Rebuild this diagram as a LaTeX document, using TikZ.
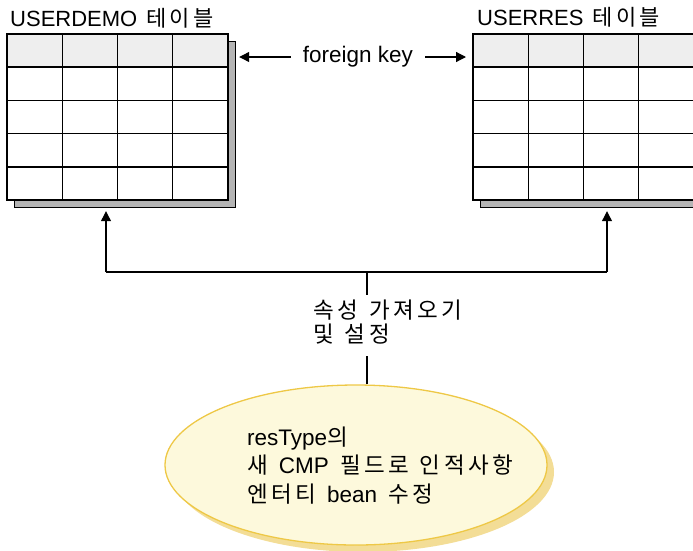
\documentclass[tikz,border=0pt]{standalone}
\usepackage{fontspec}
\setmainfont{Liberation Sans}
\newfontfamily\lat{Liberation Sans}
\newfontfamily\kr[WordSpace=2.2]{Noto Sans CJK KR}
\usetikzlibrary{arrows.meta,shapes.geometric,calc}

% tracking between consecutive Hangul syllables
\XeTeXinterchartokenstate=1
\chardef\hangulcls=41
\count255="AC00
\loop
  \XeTeXcharclass\count255=\hangulcls
  \ifnum\count255<"D7A3 \advance\count255 by 1
\repeat
\XeTeXinterchartoks\hangulcls\hangulcls={\kern0.15em\relax}

\definecolor{headfill}{RGB}{238,238,238}
\definecolor{shadowgrey}{RGB}{180,180,180}
\definecolor{ellfill}{RGB}{253,249,220}
\definecolor{ellborder}{RGB}{238,200,70}
\definecolor{ellshadow}{RGB}{243,221,150}

\tikzset{
  tblbox/.style={draw, line width=1.2pt, fill=white, minimum width=221pt, minimum height=166pt, inner sep=0pt},
  tblshadow/.style={draw, line width=1.2pt, fill=shadowgrey, minimum width=221pt, minimum height=166pt, inner sep=0pt},
  gridln/.style={line width=1.1pt},
  arr/.style={line width=1.2pt, -{Triangle[length=10pt,width=10pt]}},
  plain/.style={line width=1.2pt},
  titletxt/.style={font=\fontsize{22}{26}\selectfont, inner sep=0pt, anchor=base west},
  kotxt/.style={font=\kr\fontsize{22.5}{26}\selectfont, inner sep=0pt, anchor=base west},
}
\newcommand\tbltitle{{\kr\fontsize{22}{26}\selectfont 테이블}}

\begin{document}
\begin{tikzpicture}[x=1pt,y=-1pt]
\useasboundingbox (0,0) rectangle (693,550);
\clip (0,0) rectangle (693,550);

% table titles
\node[titletxt] (tdemo) at (10,26) {USERDEMO\hspace{9pt}\tbltitle};
\node[titletxt] (tres) at (477,25.5) {USERRES\hspace{9pt}\tbltitle};

% the two tables with their shadows, header rows and grids
\foreach \nm/\x in {demo/7, res/473} {
  \node[tblshadow, anchor=north west] at (\x+7,41) {};
  \node[tblbox, anchor=north west] (\nm) at (\x,34) {};
  \fill[headfill] (\x,34) rectangle (\x+221,67);
  \foreach \c in {55.25,110.5,165.75}
    \draw[gridln] (\x+\c,34) -- (\x+\c,200);
  \foreach \r in {67,100.5,133.5,167}
    \draw[gridln] (\x,\r) -- (\x+221,\r);
  \draw[line width=1.2pt] (\x,34) rectangle (\x+221,200);
}

% foreign key link
\node[font=\fontsize{22.5}{26}\selectfont, inner xsep=12pt, inner ysep=2pt] (fk) at (358,57) {foreign key};
\draw[arr, shorten >=10pt] (fk.west) -- (fk.west -| demo.east);
\draw[arr, shorten >=7pt] (fk.east) -- (fk.east -| res.west);

% attribute import bracket
\coordinate (jl) at (106,272);
\coordinate (jr) at (607,272);
\coordinate (jm) at (367,272);
\coordinate (attrtop) at (367,295);
\coordinate (attrbot) at (367,356);
\draw[plain] (jl) -- (jr);
\draw[arr, shorten >=10pt] (jl) -- (jl |- demo.south);
\draw[arr, shorten >=10pt] (jr) -- (jr |- res.south);

\node[kotxt] (attr1) at (313,318) {속성 가져오기};
\node[kotxt] (attr2) at (313,342) {및 설정};

% entity bean ellipse
\node[ellipse, fill=ellshadow, minimum width=382pt, minimum height=160pt] at (363,472) {};
\node[ellipse, draw=ellborder, line width=1.3pt, fill=ellfill, minimum width=382pt, minimum height=160pt] (ell) at (356,465) {};
\node[kotxt] (etxt1) at (247,445) {{\lat resType}의};
\node[kotxt] (etxt2) at (247,473.5) {새 {\lat CMP} 필드로 인적사항};
\node[kotxt] (etxt3) at (247,502) {엔터티 {\lat bean} 수정};

\draw[plain] (jm) -- (attrtop);
\draw[plain] (attrbot) -- (attrbot |- ell.north);
\end{tikzpicture}
\end{document}
